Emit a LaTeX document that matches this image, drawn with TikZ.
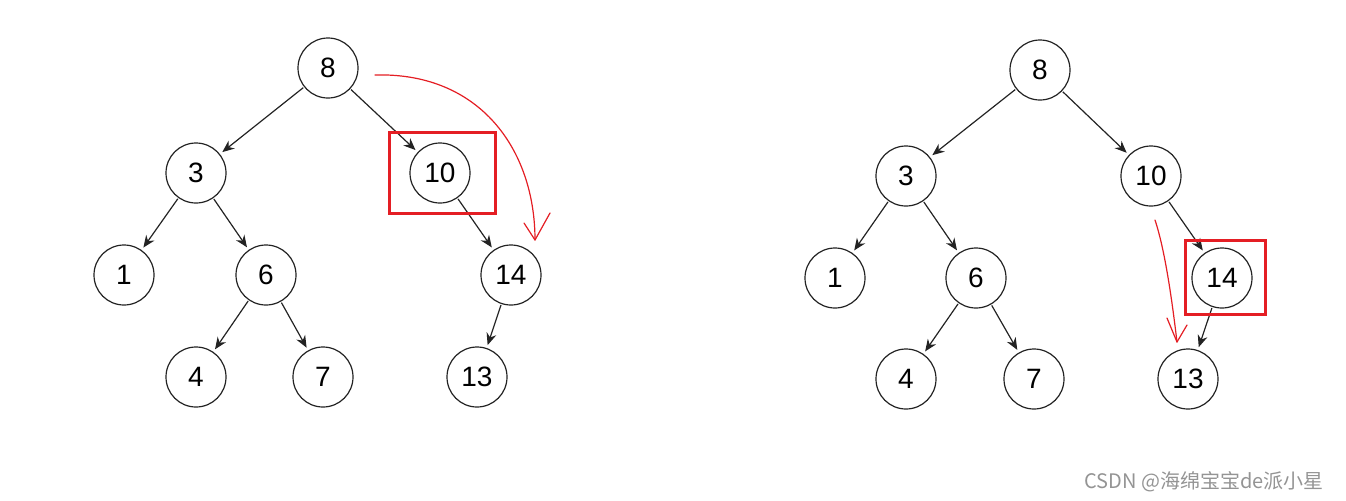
\documentclass[tikz,border=0pt]{standalone}
\usepackage{fontspec}
\setmainfont{Liberation Sans}
\newfontfamily\cjkfont{Noto Sans CJK SC}
\usetikzlibrary{arrows.meta}
\definecolor{redmark}{RGB}{228,30,36}
\definecolor{edgecol}{RGB}{35,35,35}
\tikzset{
  treenode/.style={circle, draw=edgecol, line width=0.6pt, minimum size=30pt, inner sep=0pt, font=\fontsize{14}{16}\selectfont},
  treeedge/.style={draw=edgecol, line width=0.6pt, -{Stealth[length=6pt,width=5pt]}, shorten >=1.5pt, shorten <=0.5pt},
  hlbox/.style={draw=redmark, line width=1.5pt},
  handarrow/.style={draw=redmark, line width=0.6pt, line cap=round, line join=round},
}
\begin{document}
\begin{tikzpicture}[x=0.5pt,y=-0.5pt]
\useasboundingbox (0,0) rectangle (1346,500);
% left tree
\node[treenode] (a8) at (328,68) {8};
\node[treenode] (a3) at (196,173) {3};
\node[treenode] (a10) at (440,173) {10};
\node[treenode] (a1) at (124,275) {1};
\node[treenode] (a6) at (266,275) {6};
\node[treenode] (a14) at (511,275) {14};
\node[treenode] (a4) at (196,377) {4};
\node[treenode] (a7) at (323,377) {7};
\node[treenode] (a13) at (477,377) {13};
\draw[treeedge] (a8) -- (a3);
\draw[treeedge] (a8) -- (a10);
\draw[treeedge] (a3) -- (a1);
\draw[treeedge] (a3) -- (a6);
\draw[treeedge] (a6) -- (a4);
\draw[treeedge] (a6) -- (a7);
\draw[treeedge] (a10) -- (a14);
\draw[treeedge] (a14) -- (a13);
\draw[hlbox] (389,132) rectangle (495,213);
\draw[handarrow] (375,75) .. controls (480,72) and (535,150) .. (535,240);
\draw[handarrow] (524,223) -- (535,240) -- (550,213);
% right tree
\node[treenode] (b8) at (1040,70) {8};
\node[treenode] (b3) at (906,176) {3};
\node[treenode] (b10) at (1151,176) {10};
\node[treenode] (b1) at (835,278) {1};
\node[treenode] (b6) at (976,278) {6};
\node[treenode] (b14) at (1222,278) {14};
\node[treenode] (b4) at (906,379) {4};
\node[treenode] (b7) at (1034,379) {7};
\node[treenode] (b13) at (1188,379) {13};
\draw[treeedge] (b8) -- (b3);
\draw[treeedge] (b8) -- (b10);
\draw[treeedge] (b3) -- (b1);
\draw[treeedge] (b3) -- (b6);
\draw[treeedge] (b6) -- (b4);
\draw[treeedge] (b6) -- (b7);
\draw[treeedge] (b10) -- (b14);
\draw[treeedge] (b14) -- (b13);
\draw[hlbox] (1185,240) rectangle (1265,314);
\draw[handarrow] (1155,220) .. controls (1165,250) and (1172,300) .. (1177,342);
\draw[handarrow] (1167,318) -- (1177,342) -- (1187,325);
% watermark
\node[text=black!42, font=\cjkfont\fontsize{10}{12}\selectfont, anchor=east] (wm) at (1331,482) {CSDN @海绵宝宝de派小星};
\end{tikzpicture}
\end{document}
